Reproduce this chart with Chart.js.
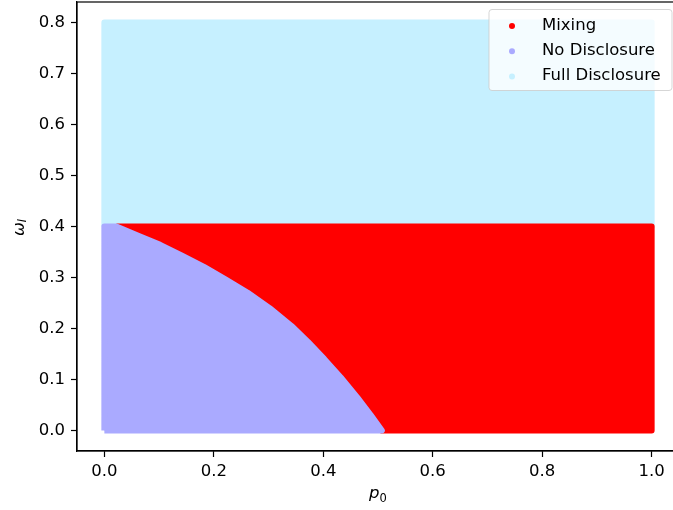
<!DOCTYPE html>
<html>
<head>
<meta charset="utf-8">
<script src="https://cdn.jsdelivr.net/npm/chart.js@4.4.1/dist/chart.umd.min.js"></script>
<style>
  html, body { margin: 0; padding: 0; background: #fff; overflow: hidden; }
</style>
</head>
<body>
<canvas id="regionChart" width="680" height="510"></canvas>
<script>
// Tick labels
const xTicks = [0.0, 0.2, 0.4, 0.6, 0.8, 1.0];
const yTicks = [0.0, 0.1, 0.2, 0.3, 0.4, 0.5, 0.6, 0.7, 0.8];

// Region outlines in (p0, omega)
const fullP0 = [0, 0, 1, 1, 0];
const fullOmega = [0.4, 0.8, 0.8, 0.4, 0.4];

// Mixing: everything right of the No Disclosure corner points, below 0.4
const mixingP0 = [0.022, 1, 1, 0.507, 0.022];
const mixingOmega = [0.4, 0.4, 0, 0, 0.4];

// No Disclosure region, its right side is the boundary with Mixing
const noDiscP0 = [0, 0, 0.022, 0.062, 0.102, 0.142, 0.182, 0.222, 0.262, 0.302, 0.342, 0.372, 0.402, 0.432, 0.462, 0.487, 0.507, 0];
const noDiscOmega = [0, 0.4, 0.4, 0.382, 0.364, 0.343, 0.321, 0.296, 0.270, 0.240, 0.205, 0.174, 0.140, 0.104, 0.065, 0.030, 0, 0];

const labels = ['Mixing', 'No Disclosure', 'Full Disclosure'];
const colors = ['#ff0000', '#aaaaff', '#c6f0ff'];

const FONT = '"DejaVu Sans", sans-serif';
Chart.defaults.font.family = FONT;
Chart.defaults.font.size = 16.5;
Chart.defaults.color = '#000';

function toPoints(xs, ys) {
  return xs.map((x, i) => ({ x: x, y: ys[i] }));
}

function region(label, color, xs, ys) {
  return {
    label: label,
    data: toPoints(xs, ys),
    showLine: true,
    fill: 'shape',
    backgroundColor: color,
    borderColor: color,
    borderWidth: 6,
    borderJoinStyle: 'round',
    pointRadius: 0,
    pointHoverRadius: 0,
  };
}

// Frame, axis titles and the legend box inside the axes
const decorations = {
  id: 'decorations',
  afterDraw(chart) {
    const { ctx, chartArea: a } = chart;
    ctx.save();

    // spines
    ctx.strokeStyle = '#000';
    ctx.lineWidth = 1.2;
    ctx.strokeRect(a.left, a.top, a.right - a.left, a.bottom - a.top);

    ctx.fillStyle = '#000';
    ctx.textAlign = 'left';
    ctx.textBaseline = 'alphabetic';

    // x title: p_0
    const big = 'italic 16.5px ' + FONT;
    const sub = '11.5px ' + FONT;
    ctx.font = big;
    const wp = ctx.measureText('p').width;
    ctx.font = sub;
    const w0 = ctx.measureText('0').width;
    const px = (a.left + a.right) / 2 - (wp + w0) / 2;
    ctx.font = big;
    ctx.fillText('p', px, 498);
    ctx.font = sub;
    ctx.fillText('0', px + wp, 502);

    // y title: omega_I
    ctx.font = big;
    const ww = ctx.measureText('ω').width;
    ctx.font = 'italic 11.5px ' + FONT;
    const wi = ctx.measureText('I').width;
    ctx.save();
    ctx.translate(23.5, (a.top + a.bottom) / 2 + 1 + (ww + wi) / 2);
    ctx.rotate(-Math.PI / 2);
    ctx.font = big;
    ctx.fillText('ω', 0, 0);
    ctx.font = 'italic 11.5px ' + FONT;
    ctx.fillText('I', ww, 2.5);
    ctx.restore();

    // legend
    const bw = 183, bh = 81;
    const bx = a.right - 7 - bw, by = a.top + 7.5;
    ctx.beginPath();
    ctx.roundRect(bx, by, bw, bh, 3);
    ctx.fillStyle = 'rgba(255,255,255,0.8)';
    ctx.fill();
    ctx.strokeStyle = 'rgba(204,204,204,0.8)';
    ctx.lineWidth = 1;
    ctx.stroke();

    ctx.font = '16.5px ' + FONT;
    labels.forEach((name, i) => {
      const rowY = by + 16.5 + i * 25.2;
      ctx.beginPath();
      ctx.arc(bx + 23, rowY, 3, 0, Math.PI * 2);
      ctx.fillStyle = colors[i];
      ctx.fill();
      ctx.fillStyle = '#000';
      ctx.fillText(name, bx + 53, rowY + 4);
    });

    ctx.restore();
  }
};

new Chart(document.getElementById('regionChart'), {
  type: 'scatter',
  data: {
    // first dataset is painted last, so No Disclosure sits on top
    datasets: [
      region(labels[1], colors[1], noDiscP0, noDiscOmega),
      region(labels[0], colors[0], mixingP0, mixingOmega),
      region(labels[2], colors[2], fullP0, fullOmega),
    ],
  },
  options: {
    responsive: false,
    animation: false,
    events: [],
    layout: { padding: { top: 2, right: 1, left: 0, bottom: 0 } },
    plugins: {
      legend: { display: false },
      tooltip: { enabled: false },
    },
    scales: {
      x: {
        type: 'linear',
        min: -0.05,
        max: 1.05,
        afterBuildTicks: scale => { scale.ticks = xTicks.map(v => ({ value: v })); },
        afterFit: scale => {
          scale.height = 59;
          scale.paddingLeft = 0;
          scale.paddingRight = 0;
        },
        ticks: { callback: v => v.toFixed(1), padding: 5, maxRotation: 0, autoSkip: false },
        grid: { drawOnChartArea: false, drawTicks: true, tickLength: 6, tickColor: '#000', tickWidth: 1.2 },
        border: { display: true, color: '#000', width: 1.2 },
      },
      y: {
        type: 'linear',
        min: -0.04,
        max: 0.84,
        afterBuildTicks: scale => { scale.ticks = yTicks.map(v => ({ value: v })); },
        afterFit: scale => {
          scale.width = 77;
          scale.paddingTop = 0;
          scale.paddingBottom = 0;
        },
        ticks: { callback: v => v.toFixed(1), padding: 6, autoSkip: false },
        grid: { drawOnChartArea: false, drawTicks: true, tickLength: 6, tickColor: '#000', tickWidth: 1.2 },
        border: { display: true, color: '#000', width: 1.2 },
      },
    },
  },
  plugins: [decorations],
});
</script>
</body>
</html>
